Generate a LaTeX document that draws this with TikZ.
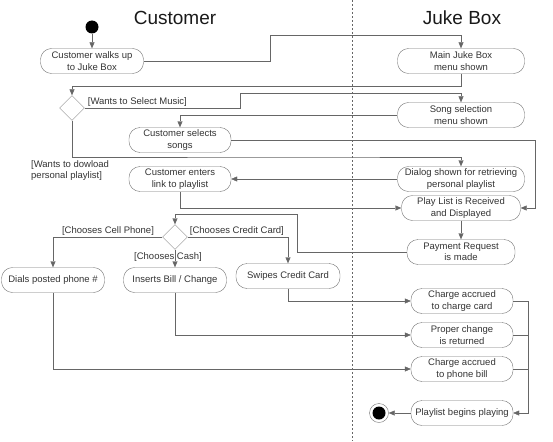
\documentclass[tikz,border=0pt]{standalone}
\usepackage{fontspec}
\setmainfont{Liberation Sans}
\usetikzlibrary{positioning, shapes, arrows.meta, calc}

\tikzset{
  act/.style={draw=black!55, rounded corners=11pt, minimum height=25pt, align=center,
    inner sep=1pt, text=black!80, font=\fontsize{9.5}{11.5}\selectfont},
  choice/.style={draw=black!45, diamond, minimum width=25pt, minimum height=25pt, inner sep=0pt},
  guard/.style={inner sep=1pt, text=black!80, font=\fontsize{9.5}{11.5}\selectfont},
  flow/.style={draw=black!60, -{Triangle[length=6pt,width=5pt]}},
  wire/.style={draw=black!60},
  lane/.style={font=\fontsize{19}{22}\selectfont, text=black!90}
}

\begin{document}
\begin{tikzpicture}[x=1pt, y=-1pt]
  \useasboundingbox (0,0) rectangle (553,441);
  % swimlanes
  \node[lane] (custT) at (175,18) {Customer};
  \node[lane] (jukeT) at (462,18) {Juke Box};
  \draw[black!60, dash pattern=on 2pt off 2pt] (352,0) -- (352,441);

  % activities
  \node[circle, fill=black, minimum size=13pt, inner sep=0pt] (start) at (92,27) {};
  \node[act, minimum width=103pt] (walk) at (92,61) {Customer walks up\\to Juke Box};
  \node[act, minimum width=127pt] (mainmenu) at (461,61) {Main Juke Box\\menu shown};
  \node[choice] (dec1) at (72,108) {};
  \node[act, minimum width=127pt] (songmenu) at (461,115) {Song selection\\menu shown};
  \node[act, minimum width=102pt] (select) at (180,140) {Customer selects\\songs};
  \node[act, minimum width=127pt] (dialog) at (461,179) {Dialog shown for retrieving\\personal playlist};
  \node[act, minimum width=102pt] (enter) at (180,179) {Customer enters\\link to playlist};
  \node[act, minimum width=119pt] (received) at (461,208) {Play List is Received\\and Displayed};
  \node[act, minimum width=108pt] (payment) at (461,252) {Payment Request\\is made};
  \node[choice] (dec2) at (175,237) {};
  \node[act, minimum width=103pt] (dials) at (53,280) {Dials posted phone \#};
  \node[act, minimum width=103pt] (inserts) at (175,280) {Inserts Bill / Change};
  \node[act, minimum width=104pt] (swipes) at (288,276) {Swipes Credit Card};
  \node[act, minimum width=102pt] (chcard) at (462,301) {Charge accrued\\to charge card};
  \node[act, minimum width=102pt] (change) at (462,335) {Proper change\\is returned};
  \node[act, minimum width=102pt] (chphone) at (462,369) {Charge accrued\\to phone bill};
  \node[act, minimum width=102pt] (playing) at (462,413) {Playlist begins playing};
  \node[circle, draw=black!55, minimum size=19pt, inner sep=0pt] (stop) at (379,413) {};
  \node[circle, fill=black, minimum size=13pt, inner sep=0pt] (stopdot) at (stop) {};

  % guards
  \node[guard, anchor=south west] (gmusic) at ($(dec1.east)+(2,0)$) {[Wants to Select Music]};
  \node[guard, anchor=north west, align=left] (glist) at (30,159) {[Wants to dowload\\personal playlist]};
  \node[guard, anchor=south] (gphone) at (108,237) {[Chooses Cell Phone]};
  \node[guard, anchor=south west] (gcard) at ($(dec2.east)+(1,0)$) {[Chooses Credit Card]};
  \node[guard] (gcash) at (168,257) {[Chooses Cash]};

  % flows
  \coordinate (join) at (528,301);
  \draw[flow] (start) -- (walk);
  \draw[flow] (walk.east) -| (270,35) -| (mainmenu.north);
  \draw[flow] (mainmenu.south) -- ++(0,13) -| (dec1.north);
  \draw[flow] (dec1.east) -| (240,93) -| (songmenu.north);
  \draw[flow] (songmenu.west) -| (select.north);
  \draw[flow] (select.east) -| (535,140) |- (received.east);
  \draw[flow] (dec1.south) |- (300,157) -| (dialog.north);
  \draw[flow] (dialog.west) -- (enter.east);
  \draw[flow] (enter.south) |- (received.west);
  \draw[flow] (received) -- (payment);
  \draw[flow] (payment.west) -| (297,214) -| (dec2.north);
  \draw[flow] (dec2.west) -| (dials.north);
  \draw[flow] (dec2.east) -| (swipes.north);
  \draw[flow] (dec2.south) -- (inserts.north);
  \draw[flow] (swipes.south) |- (chcard.west);
  \draw[flow] (inserts.south) |- (change.west);
  \draw[flow] (dials.south) |- (chphone.west);
  \draw[flow] (chcard.east) -- (join) |- (playing.east);
  \draw[wire] (change.east) -- (change.east -| join);
  \draw[wire] (chphone.east) -- (chphone.east -| join);
  \draw[flow] (playing.west) -- (stop);
\end{tikzpicture}
\end{document}
